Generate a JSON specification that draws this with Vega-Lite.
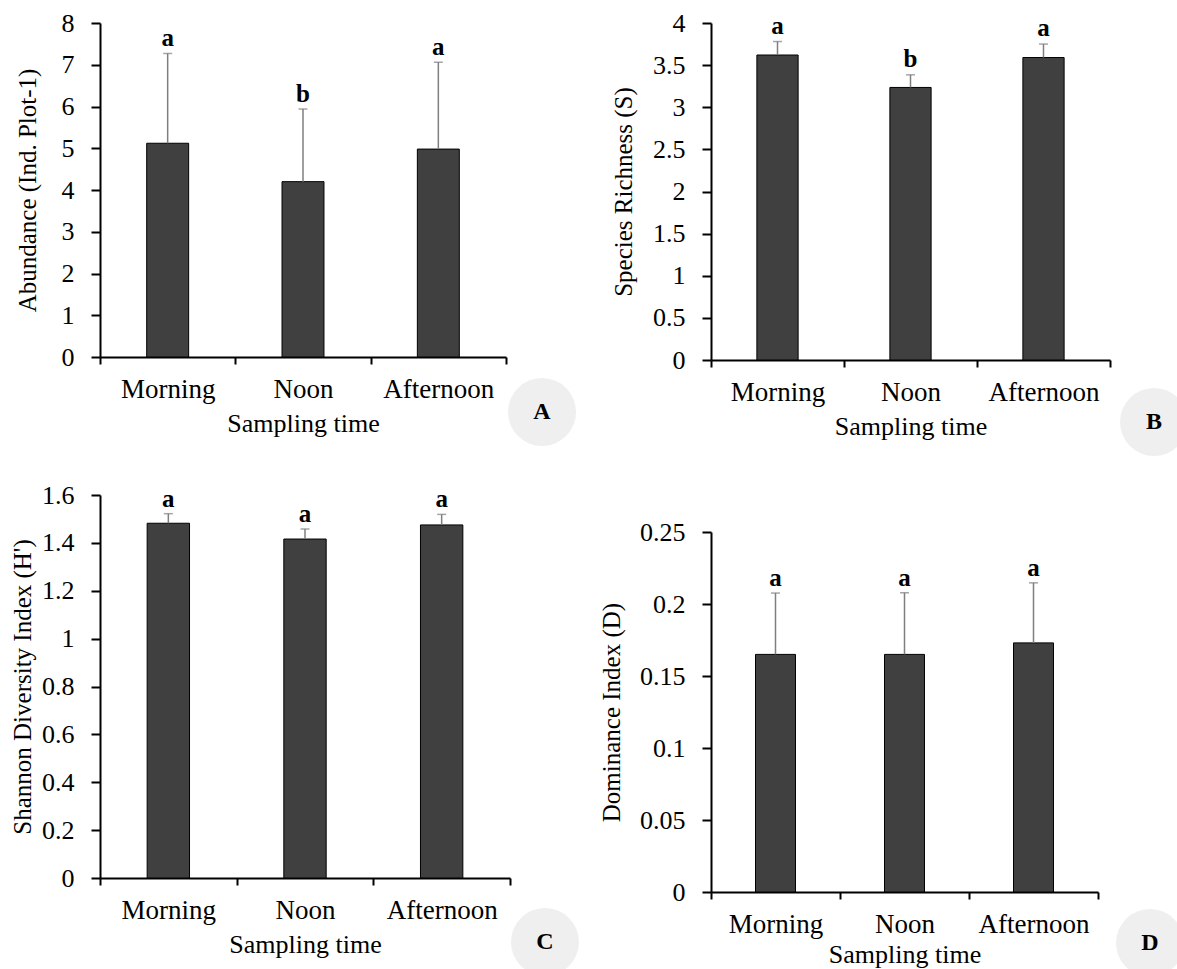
{
  "$schema": "https://vega.github.io/schema/vega-lite/v6.json",
  "background": "white",
  "padding": {"left": 10, "top": 10, "right": 0, "bottom": 0},
  "datasets": {
    "abundance": [
      {"time": "Morning", "mean": 5.12, "upper": 7.27, "letter": "a"},
      {"time": "Noon", "mean": 4.2, "upper": 5.94, "letter": "b"},
      {"time": "Afternoon", "mean": 4.98, "upper": 7.06, "letter": "a"}
    ],
    "richness": [
      {"time": "Morning", "mean": 3.62, "upper": 3.78, "letter": "a"},
      {"time": "Noon", "mean": 3.235, "upper": 3.385, "letter": "b"},
      {"time": "Afternoon", "mean": 3.59, "upper": 3.75, "letter": "a"}
    ],
    "shannon": [
      {"time": "Morning", "mean": 1.482, "upper": 1.522, "letter": "a"},
      {"time": "Noon", "mean": 1.416, "upper": 1.458, "letter": "a"},
      {"time": "Afternoon", "mean": 1.475, "upper": 1.519, "letter": "a"}
    ],
    "dominance": [
      {"time": "Morning", "mean": 0.165, "upper": 0.2076, "letter": "a"},
      {"time": "Noon", "mean": 0.165, "upper": 0.2078, "letter": "a"},
      {"time": "Afternoon", "mean": 0.173, "upper": 0.2147, "letter": "a"}
    ]
  },
  "spacing": 20,
  "hconcat": [
    {
      "spacing": 36,
      "vconcat": [
        {
          "width": 406, "height": 334,
          "data": {"name": "abundance"},
          "encoding": {"x": {"field": "time", "type": "nominal", "sort": ["Morning", "Noon", "Afternoon"], "scale": {"paddingInner": 0, "paddingOuter": 0}, "title": "Sampling time", "axis": {"tickBand": "extent"}}},
          "layer": [
            {"mark": {"type": "bar", "fill": "#404040", "stroke": "black", "strokeWidth": 1, "width": {"band": 0.31}},
             "encoding": {"y": {"field": "mean", "type": "quantitative", "scale": {"domain": [0, 8], "nice": false}, "title": "Abundance (Ind. Plot-1)", "axis": {"values": [0, 1, 2, 3, 4, 5, 6, 7, 8], "format": "~g", "titlePadding": 21}}}},
            {"mark": {"type": "rule", "color": "#7f7f7f", "strokeWidth": 1.5},
             "encoding": {"y": {"field": "mean", "type": "quantitative", "scale": {"domain": [0, 8], "nice": false}, "title": "Abundance (Ind. Plot-1)"}, "y2": {"field": "upper"}}},
            {"mark": {"type": "tick", "orient": "horizontal", "size": 9, "thickness": 1.5, "color": "#7f7f7f"},
             "encoding": {"y": {"field": "upper", "type": "quantitative", "scale": {"domain": [0, 8], "nice": false}, "title": "Abundance (Ind. Plot-1)"}}},
            {"mark": {"type": "text", "baseline": "bottom", "dy": -2, "fontSize": 25, "fontWeight": "bold", "color": "black"},
             "encoding": {"y": {"field": "upper", "type": "quantitative", "scale": {"domain": [0, 8], "nice": false}, "title": "Abundance (Ind. Plot-1)"}, "text": {"field": "letter"}}},
            {"data": {"values": [{"panel": "A"}]},
             "mark": {"type": "point", "shape": "circle", "size": 4624, "filled": true, "fill": "#efefef", "opacity": 1, "strokeWidth": 0, "xOffset": 103.7, "yOffset": 55},
             "encoding": {"x": {"datum": "Afternoon"}, "y": {"datum": 0, "type": "quantitative", "title": "Abundance (Ind. Plot-1)"}}},
            {"data": {"values": [{"panel": "A"}]},
             "mark": {"type": "text", "fontSize": 24, "fontWeight": "bold", "color": "black", "baseline": "middle", "xOffset": 103.7, "yOffset": 55},
             "encoding": {"x": {"datum": "Afternoon"}, "y": {"datum": 0, "type": "quantitative", "title": "Abundance (Ind. Plot-1)"}, "text": {"field": "panel"}}}
          ]
        },
        {
          "width": 410, "height": 383,
          "data": {"name": "shannon"},
          "encoding": {"x": {"field": "time", "type": "nominal", "sort": ["Morning", "Noon", "Afternoon"], "scale": {"paddingInner": 0, "paddingOuter": 0}, "title": "Sampling time", "axis": {"tickBand": "extent"}}},
          "layer": [
            {"mark": {"type": "bar", "fill": "#404040", "stroke": "black", "strokeWidth": 1, "width": {"band": 0.31}},
             "encoding": {"y": {"field": "mean", "type": "quantitative", "scale": {"domain": [0, 1.6], "nice": false}, "title": "Shannon Diversity Index (H')", "axis": {"values": [0, 0.2, 0.4, 0.6, 0.8, 1, 1.2, 1.4, 1.6], "format": "~g", "titlePadding": 6.5}}}},
            {"mark": {"type": "rule", "color": "#7f7f7f", "strokeWidth": 1.5},
             "encoding": {"y": {"field": "mean", "type": "quantitative", "scale": {"domain": [0, 1.6], "nice": false}, "title": "Shannon Diversity Index (H')"}, "y2": {"field": "upper"}}},
            {"mark": {"type": "tick", "orient": "horizontal", "size": 9, "thickness": 1.5, "color": "#7f7f7f"},
             "encoding": {"y": {"field": "upper", "type": "quantitative", "scale": {"domain": [0, 1.6], "nice": false}, "title": "Shannon Diversity Index (H')"}}},
            {"mark": {"type": "text", "baseline": "bottom", "dy": -2, "fontSize": 25, "fontWeight": "bold", "color": "black"},
             "encoding": {"y": {"field": "upper", "type": "quantitative", "scale": {"domain": [0, 1.6], "nice": false}, "title": "Shannon Diversity Index (H')"}, "text": {"field": "letter"}}},
            {"data": {"values": [{"panel": "C"}]},
             "mark": {"type": "point", "shape": "circle", "size": 4624, "filled": true, "fill": "#efefef", "opacity": 1, "strokeWidth": 0, "xOffset": 103.3, "yOffset": 64},
             "encoding": {"x": {"datum": "Afternoon"}, "y": {"datum": 0, "type": "quantitative", "title": "Shannon Diversity Index (H')"}}},
            {"data": {"values": [{"panel": "C"}]},
             "mark": {"type": "text", "fontSize": 24, "fontWeight": "bold", "color": "black", "baseline": "middle", "xOffset": 103.3, "yOffset": 64},
             "encoding": {"x": {"datum": "Afternoon"}, "y": {"datum": 0, "type": "quantitative", "title": "Shannon Diversity Index (H')"}, "text": {"field": "panel"}}}
          ]
        }
      ]
    },
    {
      "spacing": 172,
      "bounds": "flush",
      "vconcat": [
        {
          "width": 399, "height": 337,
          "data": {"name": "richness"},
          "encoding": {"x": {"field": "time", "type": "nominal", "sort": ["Morning", "Noon", "Afternoon"], "scale": {"paddingInner": 0, "paddingOuter": 0}, "title": "Sampling time", "axis": {"tickBand": "extent"}}},
          "layer": [
            {"mark": {"type": "bar", "fill": "#404040", "stroke": "black", "strokeWidth": 1, "width": {"band": 0.31}},
             "encoding": {"y": {"field": "mean", "type": "quantitative", "scale": {"domain": [0, 4], "nice": false}, "title": "Species Richness (S)", "axis": {"values": [0, 0.5, 1, 1.5, 2, 2.5, 3, 3.5, 4], "format": "~g", "titlePadding": 16}}}},
            {"mark": {"type": "rule", "color": "#7f7f7f", "strokeWidth": 1.5},
             "encoding": {"y": {"field": "mean", "type": "quantitative", "scale": {"domain": [0, 4], "nice": false}, "title": "Species Richness (S)"}, "y2": {"field": "upper"}}},
            {"mark": {"type": "tick", "orient": "horizontal", "size": 9, "thickness": 1.5, "color": "#7f7f7f"},
             "encoding": {"y": {"field": "upper", "type": "quantitative", "scale": {"domain": [0, 4], "nice": false}, "title": "Species Richness (S)"}}},
            {"mark": {"type": "text", "baseline": "bottom", "dy": -3, "fontSize": 25, "fontWeight": "bold", "color": "black"},
             "encoding": {"y": {"field": "upper", "type": "quantitative", "scale": {"domain": [0, 4], "nice": false}, "title": "Species Richness (S)"}, "text": {"field": "letter"}}},
            {"data": {"values": [{"panel": "B"}]},
             "mark": {"type": "point", "shape": "circle", "size": 4624, "filled": true, "fill": "#efefef", "opacity": 1, "strokeWidth": 0, "xOffset": 110.5, "yOffset": 62},
             "encoding": {"x": {"datum": "Afternoon"}, "y": {"datum": 0, "type": "quantitative", "title": "Species Richness (S)"}}},
            {"data": {"values": [{"panel": "B"}]},
             "mark": {"type": "text", "fontSize": 24, "fontWeight": "bold", "color": "black", "baseline": "middle", "xOffset": 110.5, "yOffset": 62},
             "encoding": {"x": {"datum": "Afternoon"}, "y": {"datum": 0, "type": "quantitative", "title": "Species Richness (S)"}, "text": {"field": "panel"}}}
          ]
        },
        {
          "width": 387, "height": 360,
          "data": {"name": "dominance"},
          "encoding": {"x": {"field": "time", "type": "nominal", "sort": ["Morning", "Noon", "Afternoon"], "scale": {"paddingInner": 0, "paddingOuter": 0}, "title": "Sampling time", "axis": {"tickBand": "extent", "titlePadding": 4}}},
          "layer": [
            {"mark": {"type": "bar", "fill": "#404040", "stroke": "black", "strokeWidth": 1, "width": {"band": 0.31}},
             "encoding": {"y": {"field": "mean", "type": "quantitative", "scale": {"domain": [0, 0.25], "nice": false}, "title": "Dominance Index (D)", "axis": {"values": [0, 0.05, 0.1, 0.15, 0.2, 0.25], "format": "~g", "titlePadding": 15}}}},
            {"mark": {"type": "rule", "color": "#7f7f7f", "strokeWidth": 1.5},
             "encoding": {"y": {"field": "mean", "type": "quantitative", "scale": {"domain": [0, 0.25], "nice": false}, "title": "Dominance Index (D)"}, "y2": {"field": "upper"}}},
            {"mark": {"type": "tick", "orient": "horizontal", "size": 9, "thickness": 1.5, "color": "#7f7f7f"},
             "encoding": {"y": {"field": "upper", "type": "quantitative", "scale": {"domain": [0, 0.25], "nice": false}, "title": "Dominance Index (D)"}}},
            {"mark": {"type": "text", "baseline": "bottom", "dy": -2, "fontSize": 25, "fontWeight": "bold", "color": "black"},
             "encoding": {"y": {"field": "upper", "type": "quantitative", "scale": {"domain": [0, 0.25], "nice": false}, "title": "Dominance Index (D)"}, "text": {"field": "letter"}}},
            {"data": {"values": [{"panel": "D"}]},
             "mark": {"type": "point", "shape": "circle", "size": 4624, "filled": true, "fill": "#efefef", "opacity": 1, "strokeWidth": 0, "xOffset": 116.5, "yOffset": 51},
             "encoding": {"x": {"datum": "Afternoon"}, "y": {"datum": 0, "type": "quantitative", "title": "Dominance Index (D)"}}},
            {"data": {"values": [{"panel": "D"}]},
             "mark": {"type": "text", "fontSize": 24, "fontWeight": "bold", "color": "black", "baseline": "middle", "xOffset": 116.5, "yOffset": 51},
             "encoding": {"x": {"datum": "Afternoon"}, "y": {"datum": 0, "type": "quantitative", "title": "Dominance Index (D)"}, "text": {"field": "panel"}}}
          ]
        }
      ]
    }
  ],
  "config": {
    "view": {"stroke": null},
    "font": "Liberation Serif",
    "text": {"font": "Liberation Serif"},
    "axis": {
      "labelFont": "Liberation Serif", "titleFont": "Liberation Serif",
      "labelColor": "black", "titleColor": "black",
      "domainColor": "black", "tickColor": "black",
      "domainWidth": 2, "tickWidth": 2, "grid": false,
      "titleFontWeight": "normal"
    },
    "axisX": {"tickSize": 7, "labelAngle": 0, "labelFontSize": 27, "labelPadding": 12, "titleFontSize": 26, "titlePadding": 8},
    "axisY": {"tickSize": 9, "labelPadding": 17, "labelFontSize": 26, "titleFontSize": 25}
  }
}
